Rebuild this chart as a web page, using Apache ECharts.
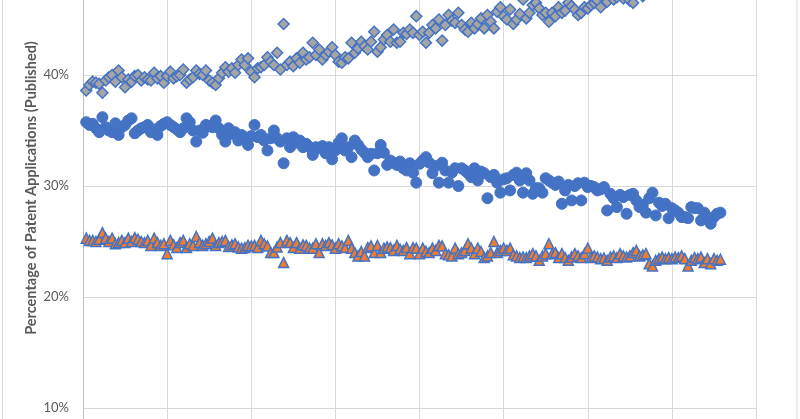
<!DOCTYPE html>
<html>
<head>
<meta charset="utf-8">
<script src="https://cdn.jsdelivr.net/npm/echarts@6/dist/echarts.min.js"></script>
<style>
html,body{margin:0;padding:0;background:#fff;}
#chart{width:800px;height:419px;}
</style>
</head>
<body>
<div id="chart"></div>
<script>
// Week index (x axis): one point per week
const weekCount = 197;
const weeks = Array.from({length: weekCount}, (_, i) => i + 1);

// Y-axis ticks (percent)
const yTicks = [0, 10, 20, 30, 40, 50];
// X-axis gridline spacing: 26 weeks
const xTickWeeks = [0, 26, 52, 78, 104, 130, 156, 182, 208];

const axisTitle = 'Percentage of Patent Applications (Published)';

// Series values (percent)
const diamondSeries = [
38.6,39.1,39.4,39.3,39.2,38.4,39.5,39.8,40.0,39.4,
40.4,39.8,38.9,39.6,39.4,39.9,40.0,39.5,39.8,39.6,
39.5,40.2,39.7,39.9,39.3,39.9,40.3,39.7,39.9,40.0,
40.5,39.3,39.6,39.8,40.4,40.1,40.0,40.4,39.5,39.3,
39.1,39.7,40.2,40.7,40.3,40.6,40.2,40.9,41.4,40.9,
41.5,40.3,39.8,40.6,40.7,40.9,41.6,41.2,40.9,42.0,
40.5,44.6,40.9,41.2,40.8,41.5,41.1,42.0,41.4,41.6,
42.9,41.8,42.3,41.4,41.8,42.1,42.5,41.8,41.2,41.1,
41.6,41.5,42.9,42.0,42.4,43.0,42.6,42.3,43.0,43.9,
42.1,42.5,43.2,43.6,43.0,44.1,42.9,43.0,43.8,43.7,
44.1,43.8,45.3,43.6,43.9,42.9,43.8,44.5,44.2,45.0,
43.1,44.5,45.4,44.9,44.7,45.6,44.5,44.1,43.9,44.7,
44.2,44.6,45.1,44.2,45.4,44.8,44.2,45.7,46.1,45.3,
45.0,45.9,44.6,45.0,45.5,46.8,45.1,45.6,46.3,46.5,
46.0,45.4,45.6,44.8,45.6,45.3,46.1,45.6,45.8,46.5,
46.2,45.9,45.4,45.6,46.1,46.0,46.3,46.5,46.7,46.1,
46.9,46.6,47.2,46.8,47.0,47.4,46.9,47.3,46.7,46.5,
47.3,47.6,47.1,47.8,47.4,47.9,47.5,48.1,47.7,48.0,
48.3,47.8,48.5,48.1,48.4,48.8,48.2,48.6,49.0,48.5,
48.9,48.4,49.2,48.7,49.1,48.8,49.3
];

const circleSeries = [
35.75,35.5,35.6,35.2,34.85,36.2,35.3,35.0,34.85,35.65,
34.6,35.3,35.5,35.9,36.1,34.75,35.0,35.2,35.3,35.5,
34.85,35.1,34.6,35.4,35.6,35.75,35.5,35.3,35.1,34.85,
35.2,36.1,35.75,35.0,34.0,35.0,34.8,35.5,35.4,35.3,
35.9,35.2,34.6,34.0,35.2,34.7,34.85,34.1,34.6,34.4,
33.7,34.5,35.5,34.4,34.6,34.1,33.2,34.3,35.0,34.3,
34.0,32.05,34.3,33.5,34.4,33.9,34.1,33.5,33.8,33.5,
32.8,33.5,33.4,33.6,32.95,33.5,32.4,33.2,33.9,34.3,
33.2,33.5,32.6,34.1,33.7,33.3,33.0,32.6,32.9,31.4,
32.95,33.7,33.0,31.9,32.3,32.1,31.9,32.2,31.6,31.4,
32.05,31.2,30.3,32.0,32.3,32.6,32.1,31.15,31.8,30.3,
32.1,31.4,30.3,31.2,31.6,30.0,31.6,31.4,31.15,30.8,
31.6,30.5,31.3,31.15,28.9,30.8,31.0,30.3,29.4,30.6,
30.7,29.6,31.0,31.2,30.5,29.4,31.15,30.5,29.3,29.8,
29.8,29.4,30.7,30.5,30.3,30.1,30.4,28.4,29.6,30.1,
28.7,30.0,30.25,28.7,30.3,29.9,30.0,29.9,29.6,29.7,
29.9,27.8,29.3,28.9,28.1,29.2,29.0,27.5,29.2,29.3,
28.7,28.1,28.3,27.6,28.9,29.4,27.35,28.5,28.2,28.4,
27.1,28.0,27.8,27.6,27.2,27.2,27.1,28.1,28.0,28.0,
26.9,27.6,27.2,26.6,27.2,27.5,27.6
];

const triangleSeries = [
25.3,25.1,25.1,25.0,25.2,25.8,25.3,25.0,25.3,24.8,
24.9,25.1,24.9,25.3,25.0,25.35,25.2,25.0,24.9,25.1,
24.65,25.3,24.9,24.65,24.8,23.9,25.1,24.7,24.45,24.9,
25.1,24.45,24.8,24.65,25.45,24.9,24.65,24.8,25.0,25.3,
24.65,24.9,25.0,25.1,24.55,24.7,24.8,24.5,24.4,24.45,
24.65,24.6,24.65,24.45,25.1,24.8,24.6,24.0,24.0,24.5,
24.9,23.1,25.1,24.9,24.45,24.9,24.4,24.7,24.65,24.4,
24.4,24.8,24.0,24.8,24.65,24.9,24.7,24.4,24.8,24.6,
24.45,25.1,24.4,24.0,23.7,24.1,23.7,24.45,24.6,24.0,
24.65,24.0,24.4,24.5,24.45,24.2,24.65,24.3,24.2,24.45,
23.9,24.45,24.4,23.9,24.4,24.1,24.0,24.4,24.2,24.65,
24.6,23.9,23.8,23.7,24.4,23.9,24.0,24.2,24.8,24.4,
23.9,24.4,24.1,23.55,23.7,24.0,25.0,24.0,24.2,24.4,
24.2,24.4,23.8,23.7,23.55,23.6,23.55,23.7,23.9,23.7,
23.3,23.7,23.9,24.8,23.9,24.0,23.55,23.9,23.55,23.3,
23.6,23.9,23.7,23.55,23.9,24.4,23.55,23.7,23.6,23.45,
23.5,23.3,23.6,23.7,23.55,23.9,23.7,23.6,23.7,24.0,
24.2,23.7,23.8,23.9,23.0,22.8,23.3,23.45,23.6,23.45,
23.55,23.45,23.6,23.55,23.7,23.45,22.8,23.3,23.55,23.45,
23.6,23.1,23.45,23.0,23.45,23.3,23.4
];

function pairs(vals){ return weeks.map((w, i) => [w, vals[i]]); }

const chart = echarts.init(document.getElementById('chart'), null, {renderer: 'canvas'});
const gridCol = '#d9d9d9';
const option = {
  backgroundColor: '#ffffff',
  animation: false,
  grid: {left: 83, right: 44, top: -36, bottom: -100, containLabel: false, outerBoundsMode: 'none'},
  xAxis: {
    type: 'value',
    min: xTickWeeks[0], max: xTickWeeks[xTickWeeks.length - 1], interval: xTickWeeks[1] - xTickWeeks[0],
    axisLine: {show: true, lineStyle: {color: gridCol}},
    axisTick: {show: false},
    axisLabel: {show: false},
    splitLine: {show: true, lineStyle: {color: gridCol, width: 1}}
  },
  yAxis: {
    type: 'value',
    min: yTicks[0], max: yTicks[yTicks.length - 1], interval: yTicks[1] - yTicks[0],
    axisLine: {show: true, lineStyle: {color: '#bfbfbf', width: 1}},
    axisTick: {show: false},
    axisLabel: {formatter: '{value}%', color: '#595959', fontSize: 13, fontFamily: 'Lato', margin: 14},
    splitLine: {show: true, lineStyle: {color: gridCol, width: 1}}
  },
  graphic: [
    {type: 'rect', shape: {x: 2.5, y: -5, width: 794.5, height: 430}, style: {fill: null, stroke: '#d9d9d9', lineWidth: 1}, silent: true},
    {type: 'text', x: 31, y: 188, rotation: Math.PI / 2,
     style: {text: axisTitle, textAlign: 'center', textVerticalAlign: 'middle', fill: '#595959', font: 'bold 14.5px Lato'}}
  ],
  series: [
    {type: 'scatter', name: 'Diamonds', data: pairs(diamondSeries), symbol: 'diamond', symbolSize: 11,
     itemStyle: {color: '#a5a5a5', borderColor: '#4472c4', borderWidth: 1.5, opacity: 1}},
    {type: 'scatter', name: 'Circles', data: pairs(circleSeries), symbol: 'circle', symbolSize: 11,
     itemStyle: {color: '#4472c4', borderColor: '#4472c4', borderWidth: 1, opacity: 1}},
    {type: 'scatter', name: 'Triangles', data: pairs(triangleSeries), symbol: 'triangle', symbolSize: 10,
     itemStyle: {color: '#ed7d31', borderColor: '#4472c4', borderWidth: 1.5, opacity: 1}}
  ]
};
chart.setOption(option);
</script>
</body>
</html>
